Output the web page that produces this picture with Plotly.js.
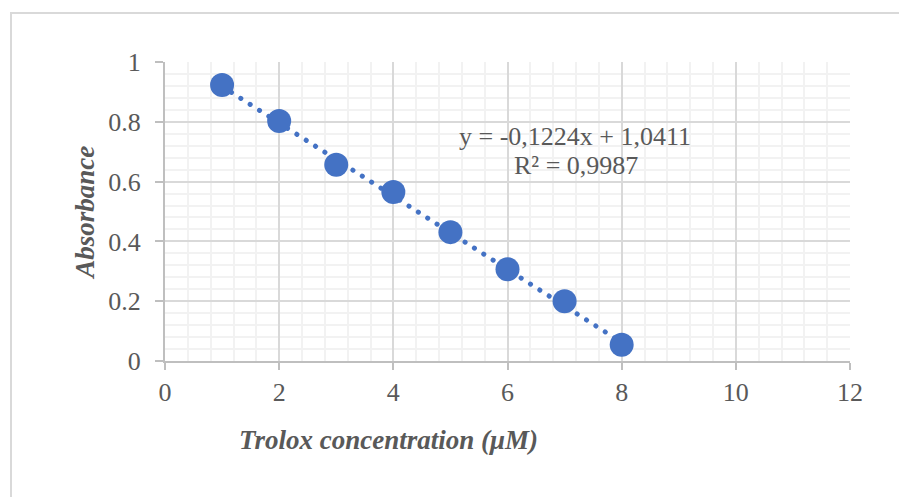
<!DOCTYPE html>
<html>
<head>
<meta charset="utf-8">
<script src="https://cdn.plot.ly/plotly-3.0.1.min.js"></script>
<style>
html, body { margin:0; padding:0; background:#fff; }
#wrap { position:relative; width:899px; height:497px; overflow:hidden; }
#chart { width:899px; height:497px; }
#frame { position:absolute; left:10px; top:12px; width:900px; height:500px; border:2px solid #D9D9D9; box-sizing:border-box; pointer-events:none; }
.scatterlayer path.js-line { stroke-linecap: round !important; }
</style>
</head>
<body>
<div id="wrap">
<div id="chart"></div>
<div id="frame"></div>
</div>
<script>
const concentration = [1, 2, 3, 4, 5, 6, 7, 8];
const absorbance = [0.923, 0.803, 0.656, 0.565, 0.431, 0.307, 0.200, 0.054];
const trendSlope = -0.1224;
const trendIntercept = 1.0411;
const equationLine = "y = -0,1224x + 1,0411";
const r2Line = "R² = 0,9987";
const xTitle = "Trolox concentration (μM)";
const yTitle = "Absorbance";
const xTicks = [0, 2, 4, 6, 8, 10, 12];
const yTicks = [0, 0.2, 0.4, 0.6, 0.8, 1];
const yTickLabels = ["0", "0.2", "0.4", "0.6", "0.8", "1"];

const trendX = [concentration[0], concentration[concentration.length - 1]];
const trendY = trendX.map(x => trendSlope * x + trendIntercept);

const blue = "#4472C4";
const textCol = "#595959";
const font = "Liberation Serif, Times New Roman, serif";
const fs = 26;

const data = [
  { x: trendX, y: trendY, mode: "lines", type: "scatter",
    line: { color: blue, width: 5, dash: "0.1px,11px" }, hoverinfo: "skip" },
  { x: concentration, y: absorbance, mode: "markers", type: "scatter",
    marker: { color: blue, size: 24, line: { width: 0 } } }
];

const layout = {
  width: 899, height: 497,
  margin: { l: 165, r: 49, t: 62, b: 136 },
  paper_bgcolor: "#fff", plot_bgcolor: "#fff",
  showlegend: false,
  font: { family: font, color: textCol, size: fs },
  xaxis: {
    range: [0, 12], tickvals: xTicks, ticktext: xTicks.map(String),
    showgrid: true, gridcolor: "#D9D9D9", gridwidth: 2,
    minor: { dtick: 0.4, showgrid: true, gridcolor: "#F2F2F2", gridwidth: 2 },
    showline: true, linecolor: "#BFBFBF", linewidth: 2,
    ticks: "outside", ticklen: 7, tickcolor: "#BFBFBF", tickwidth: 2,
    zeroline: false, mirror: false,
    tickfont: { family: font, size: fs, color: textCol }
  },
  yaxis: {
    range: [0, 1], tickvals: yTicks, ticktext: yTickLabels,
    showgrid: true, gridcolor: "#D9D9D9", gridwidth: 2,
    minor: { dtick: 0.04, showgrid: true, gridcolor: "#F2F2F2", gridwidth: 2 },
    showline: true, linecolor: "#BFBFBF", linewidth: 2,
    ticks: "outside", ticklen: 8, tickcolor: "#BFBFBF", tickwidth: 2,
    ticklabelstandoff: 9,
    zeroline: false,
    tickfont: { family: font, size: fs, color: textCol }
  },
  annotations: [
    { x: 7.18, y: 0.7525, xref: "x", yref: "y", text: equationLine, showarrow: false,
      xanchor: "center", yanchor: "middle",
      font: { family: font, size: fs, color: textCol } },
    { x: 7.2, y: 0.6555, xref: "x", yref: "y", text: r2Line, showarrow: false,
      xanchor: "center", yanchor: "middle",
      font: { family: font, size: fs, color: textCol } },
    { x: 0.327, y: -0.264, xref: "paper", yref: "paper", text: "<b><i>" + xTitle + "</i></b>",
      xanchor: "center", yanchor: "middle",
      showarrow: false, font: { family: font, size: 27, color: textCol } },
    { x: -0.117, y: 0.495, xref: "paper", yref: "paper", text: "<b><i>" + yTitle + "</i></b>",
      xanchor: "center", yanchor: "middle",
      textangle: -90, showarrow: false, font: { family: font, size: 27, color: textCol } }
  ]
};

Plotly.newPlot("chart", data, layout, { displayModeBar: false, staticPlot: true });
</script>
</body>
</html>
